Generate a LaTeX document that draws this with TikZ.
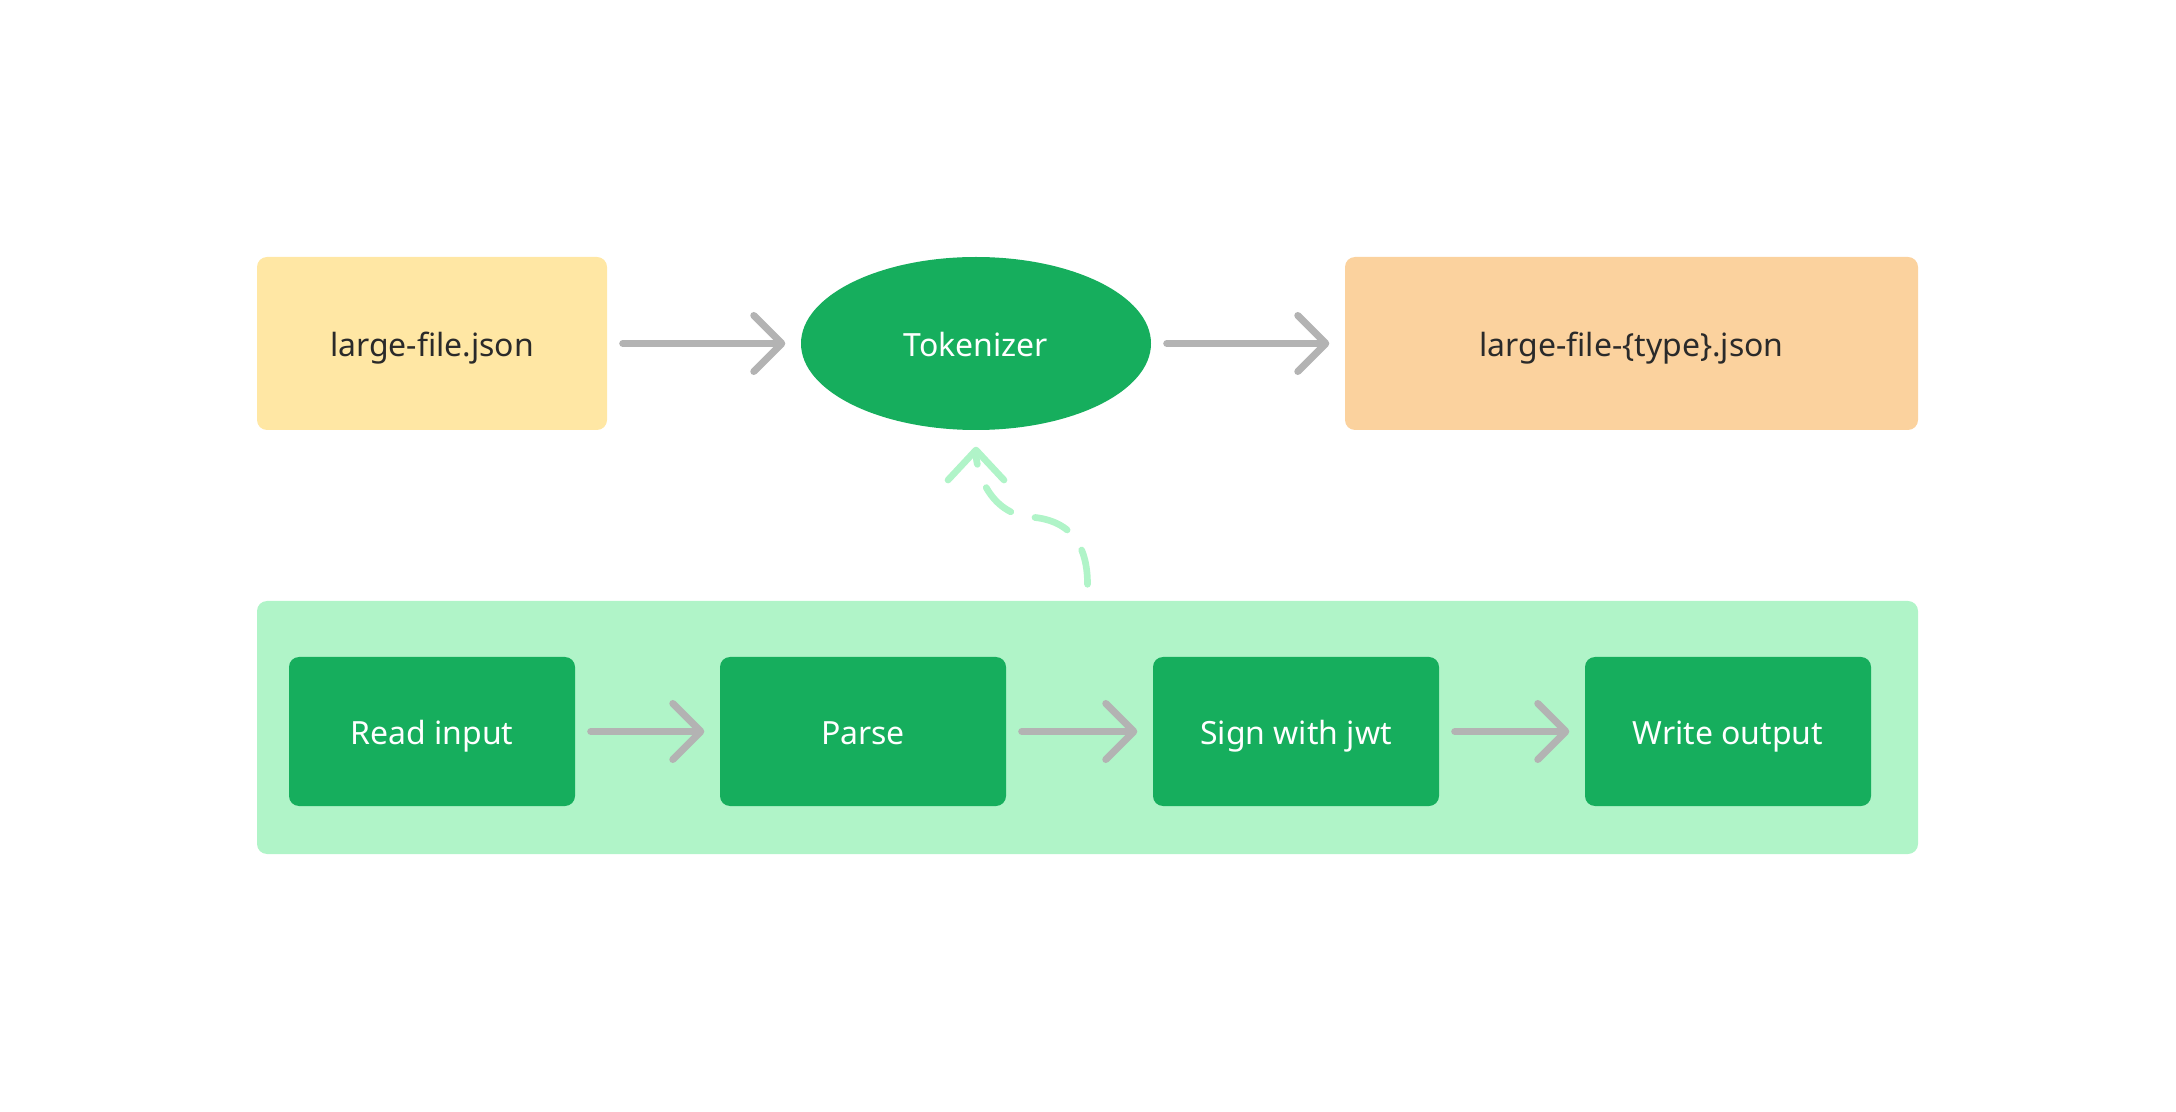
\documentclass[tikz,border=0pt]{standalone}
\usepackage{fontspec}
\setmainfont{Noto Sans}
\usetikzlibrary{shapes.geometric,arrows.meta}

\definecolor{fileyellow}{HTML}{FFE7A4}
\definecolor{fileorange}{HTML}{FBD29E}
\definecolor{stepgreen}{HTML}{16AE5D}
\definecolor{pipegreen}{HTML}{B0F4C8}
\definecolor{arrowgray}{HTML}{B3B3B3}
\definecolor{textdark}{HTML}{2A2A2A}

\begin{document}
\begin{tikzpicture}[
    font=\fontsize{9.1}{11}\selectfont,
    every node/.style={text height=0.72em,text depth=0pt},
    filebox/.style={rectangle,rounded corners=0.1cm,text=textdark,minimum height=1.73cm,inner sep=0pt},
    stepbox/.style={rectangle,rounded corners=0.1cm,fill=stepgreen,text=white,minimum width=2.86cm,minimum height=1.49cm,inner sep=0pt},
    flow/.style={draw=arrowgray,line width=2pt,line cap=round,-{Straight Barb[length=0.28cm,width=0.56cm,round]},shorten <=0.15cm,shorten >=0.15cm},
    hint/.style={draw=pipegreen,line width=1.9pt,line cap=round,dash pattern=on 0.35cm off 0.25cm,-{Straight Barb[length=0.3cm,width=0.56cm,round]},shorten <=0.16cm,shorten >=0.16cm}
  ]
      \useasboundingbox (0,0) rectangle (21.76,-11.12);
      % \draw[help lines](0,0) grid (21.76,-11.12);

      \draw (4.32,-3.435) node[filebox,fill=fileyellow,minimum width=3.5cm] (input) {large-file.json};
      \draw (9.76,-3.435) node[ellipse,fill=stepgreen,text=white,minimum width=3.5cm,minimum height=1.73cm,inner sep=0pt] (tokenizer) {Tokenizer};
      \draw (16.315,-3.435) node[filebox,fill=fileorange,minimum width=5.73cm] (output) {large-file-\{type\}.json};

      \draw (10.875,-7.275) node[rectangle,rounded corners=0.1cm,fill=pipegreen,minimum width=16.61cm,minimum height=2.53cm] (pipeline) {};
      \draw (4.32,-7.315) node[stepbox] (read) {Read input};
      \draw (8.63,-7.315) node[stepbox] (parse) {Parse};
      \draw (12.96,-7.315) node[stepbox] (sign) {Sign with jwt};
      \draw (17.28,-7.315) node[stepbox] (write) {Write output};

      \draw [flow] (input) -- (tokenizer);
      \draw [flow] (tokenizer) -- (output);
      \draw [flow] (read) -- (parse);
      \draw [flow] (parse) -- (sign);
      \draw [flow] (sign) -- (write);

      \coordinate (bend) at (10.3,-5.17);
      \draw [hint] (pipeline.north) .. controls +(0,0.5) and +(0.45,-0.03) .. (bend)
        .. controls +(-0.4,0.03) and +(0,-0.4) .. (tokenizer.south);
\end{tikzpicture}
\end{document}
